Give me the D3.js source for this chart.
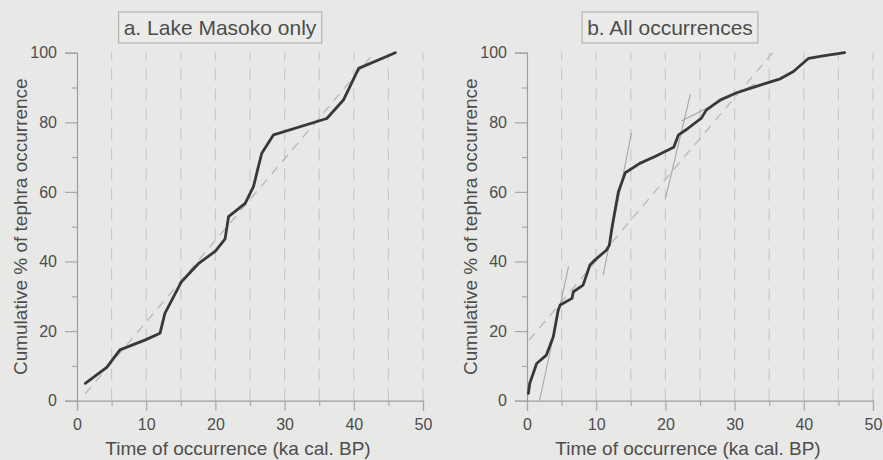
<!DOCTYPE html>
<html>
<head>
<meta charset="utf-8">
<script src="https://cdn.jsdelivr.net/npm/d3@7/dist/d3.min.js"></script>
<style>
  html, body { margin: 0; padding: 0; background: #e8e8e6; }
  svg { display: block; font-family: "Liberation Sans", Arial, sans-serif; }
</style>
</head>
<body>
<svg id="chart" width="883" height="460"></svg>
<script>
// Panel a: cumulative tephra occurrence, Lake Masoko record only
const masokoAge = [1.2, 4.3, 6.2, 9.8, 12.0, 12.7, 15.1, 17.5, 20.0, 21.4, 21.9, 24.3, 25.5, 26.2, 26.7, 28.4, 36.1, 38.5, 40.7, 46.0];
const masokoPct = [5, 9.6, 14.6, 17.4, 19.4, 25.1, 34.2, 39.3, 43, 46.5, 52.9, 56.7, 61.5, 67.2, 71.1, 76.4, 81.1, 86.4, 95.5, 100];
// straight reference line (constant occurrence rate)
const masokoRefAge = [1.2, 43];
const masokoRefPct = [2, 100];

// Panel b: cumulative tephra occurrence, all records
const allAge = [0.2, 0.4, 1.4, 2.8, 3.8, 4.5, 4.8, 6.5, 6.7, 8.1, 9.1, 9.8, 11.5, 11.9, 12.3, 13.2, 14.2, 16.3, 18.5, 21.2, 21.9, 23.1, 25.2, 25.9, 27.9, 30.3, 33.7, 36.6, 38.5, 40.7, 42.8, 45.9];
const allPct = [2.1, 5, 10.7, 13.1, 18.4, 26, 27.5, 29.4, 31.3, 33.2, 39, 40.4, 43.3, 44.7, 50, 60, 65.5, 68.2, 70.2, 72.8, 76.4, 78, 81.2, 83.5, 86.4, 88.5, 90.7, 92.5, 94.6, 98.4, 99.1, 100];
const allRefAge = [0.3, 35.5];
const allRefPct = [17.4, 100];
// local rate segments (start age, start %, end age, end %)
const segStartAge = [1.8, 11.0, 20.0, 22.3];
const segStartPct = [0, 36, 58, 80.4];
const segEndAge = [6.0, 15.1, 23.6, 33.0];
const segEndPct = [38.5, 77, 88, 91];

const xTicks = [0, 10, 20, 30, 40, 50];
const xMinor = [5, 15, 25, 35, 45];
const yTicks = [0, 20, 40, 60, 80, 100];
const yMinor = [10, 30, 50, 70, 90];
const gridAges = [5, 10, 15, 20, 25, 30, 35, 40, 45, 50];

const titles = ["a. Lake Masoko only", "b. All occurrences"];
const xTitle = "Time of occurrence (ka cal. BP)";
const yTitle = "Cumulative % of tephra occurrence";

const svg = d3.select("#chart");
const textColor = "#4d4d4d";

const panels = [
  { x0: 77, x1: 423, title: titles[0], age: masokoAge, pct: masokoPct,
    refAge: masokoRefAge, refPct: masokoRefPct, segs: false },
  { x0: 527, x1: 873, title: titles[1], age: allAge, pct: allPct,
    refAge: allRefAge, refPct: allRefPct, segs: true }
];

const yTop = 52.7, yBottom = 400.7;

panels.forEach(p => {
  const g = svg.append("g");
  const x = d3.scaleLinear().domain([0, 50]).range([p.x0, p.x1]);
  const y = d3.scaleLinear().domain([0, 100]).range([yBottom, yTop]);

  // dashed vertical gridlines
  g.selectAll("line.grid").data(gridAges).join("line")
    .attr("class", "grid")
    .attr("x1", d => x(d)).attr("x2", d => x(d))
    .attr("y1", y(0)).attr("y2", y(100))
    .attr("stroke", "#c9c9c9").attr("stroke-width", 1.2)
    .attr("stroke-dasharray", "12,8");

  // x axis
  g.append("g").attr("transform", `translate(0,${y(0)})`)
    .call(d3.axisBottom(x).tickValues(xTicks).tickSize(10).tickPadding(8).tickFormat(d3.format("d")));
  g.append("g").attr("transform", `translate(0,${y(0)})`)
    .call(d3.axisBottom(x).tickValues(xMinor).tickSize(5).tickFormat(""))
    .call(a => a.select(".domain").remove());

  // y axis
  g.append("g").attr("transform", `translate(${x(0)},0)`)
    .call(d3.axisLeft(y).tickValues(yTicks).tickSize(12).tickPadding(8).tickFormat(d3.format("d")));
  g.append("g").attr("transform", `translate(${x(0)},0)`)
    .call(d3.axisLeft(y).tickValues(yMinor).tickSize(5).tickFormat(""))
    .call(a => a.select(".domain").remove());

  g.selectAll(".domain").attr("stroke", "#9e9e9e").attr("stroke-width", 1.2);
  g.selectAll(".tick line").attr("stroke", "#a8a8a8").attr("stroke-width", 1.2);
  g.selectAll(".tick text").attr("fill", textColor).attr("font-size", 16)
    .attr("font-family", "Liberation Sans, Arial, sans-serif");

  // reference line (constant rate)
  g.append("line")
    .attr("x1", x(p.refAge[0])).attr("y1", y(p.refPct[0]))
    .attr("x2", x(p.refAge[1])).attr("y2", y(p.refPct[1]))
    .attr("stroke", "#b8b8b8").attr("stroke-width", 1.3)
    .attr("stroke-dasharray", "9,7");

  // local rate segments
  if (p.segs) {
    g.selectAll("line.seg").data(d3.range(segStartAge.length)).join("line")
      .attr("class", "seg")
      .attr("x1", i => x(segStartAge[i])).attr("y1", i => y(segStartPct[i]))
      .attr("x2", i => x(segEndAge[i])).attr("y2", i => y(segEndPct[i]))
      .attr("stroke", "#a6a6a6").attr("stroke-width", 1.1);
  }

  // cumulative curve
  const line = d3.line().x(i => x(p.age[i])).y(i => y(p.pct[i]));
  g.append("path").datum(d3.range(p.age.length))
    .attr("d", line)
    .attr("fill", "none").attr("stroke", "#383838").attr("stroke-width", 2.8)
    .attr("stroke-linejoin", "round").attr("stroke-linecap", "round");

  // panel title in a box
  const cx = (p.x0 + p.x1) / 2 - 30;
  const box = g.append("rect");
  const t = g.append("text").attr("x", cx).attr("y", 35)
    .attr("text-anchor", "middle").attr("font-size", 21).attr("fill", textColor)
    .text(p.title);
  const bb = t.node().getBBox();
  box.attr("x", bb.x - 5).attr("y", 12).attr("width", bb.width + 10).attr("height", 31)
    .attr("fill", "#ebebea").attr("stroke", "#a9a9a9").attr("stroke-width", 1);

  // axis titles
  g.append("text").attr("x", (p.x0 + p.x1) / 2 - 12).attr("y", 455)
    .attr("text-anchor", "middle").attr("font-size", 19).attr("fill", textColor)
    .text(xTitle);
  g.append("text")
    .attr("transform", `translate(${p.x0 - 50},${(yTop + yBottom) / 2}) rotate(-90)`)
    .attr("text-anchor", "middle").attr("font-size", 19).attr("fill", textColor)
    .text(yTitle);
});
</script>
</body>
</html>
